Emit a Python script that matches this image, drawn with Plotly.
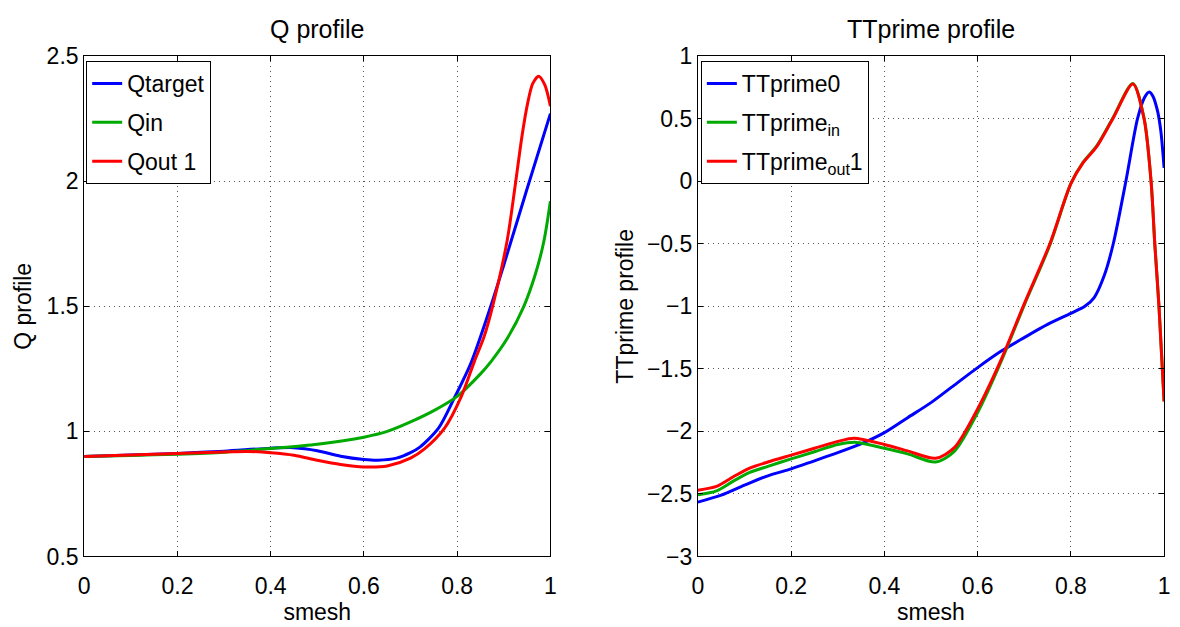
import plotly.graph_objects as go

# ---------------- Data ----------------
# Q profile
qtarget_x = [0, 0.1, 0.2, 0.3, 0.4, 0.45, 0.5, 0.55, 0.6, 0.63, 0.67, 0.7, 0.72, 0.76, 0.793, 0.83, 0.872, 0.9, 0.95, 1.0]
qtarget_y = [0.900, 0.906, 0.912, 0.921, 0.933, 0.935, 0.923, 0.901, 0.888, 0.885, 0.893, 0.915, 0.937, 1.013, 1.13, 1.275, 1.50, 1.665, 1.97, 2.27]

qin_x = [0, 0.1, 0.2, 0.3, 0.4, 0.5, 0.6, 0.65, 0.7, 0.75, 0.8, 0.85, 0.873, 0.907, 0.943, 0.968, 0.986, 1.0]
qin_y = [0.900, 0.904, 0.909, 0.917, 0.932, 0.949, 0.977, 1.0, 1.038, 1.083, 1.14, 1.23, 1.28, 1.37, 1.50, 1.63, 1.76, 1.92]

qout_x = [0, 0.1, 0.2, 0.3, 0.35, 0.4, 0.45, 0.5, 0.55, 0.6, 0.65, 0.7, 0.73, 0.773, 0.809, 0.837, 0.858, 0.876, 0.907, 0.925, 0.939, 0.951, 0.962, 0.975, 0.988, 1.0]
qout_y = [0.900, 0.906, 0.912, 0.918, 0.920, 0.915, 0.905, 0.885, 0.868, 0.858, 0.862, 0.893, 0.93, 1.013, 1.14, 1.28, 1.38, 1.50, 1.76, 1.99, 2.18, 2.31, 2.39, 2.42, 2.385, 2.30]

# TTprime profile
tt0_x = [0, 0.05, 0.1, 0.15, 0.2, 0.25, 0.3, 0.356, 0.4, 0.45, 0.5, 0.55, 0.6, 0.65, 0.7, 0.75, 0.8, 0.83, 0.85, 0.872, 0.891, 0.918, 0.943, 0.958, 0.968, 0.976, 0.986, 0.993, 1.0]
tt0_y = [-2.565, -2.51, -2.43, -2.355, -2.30, -2.235, -2.17, -2.09, -2.01, -1.89, -1.77, -1.63, -1.49, -1.36, -1.25, -1.145, -1.056, -1.0, -0.93, -0.75, -0.5, 0.0, 0.5, 0.67, 0.714, 0.68, 0.56, 0.40, 0.107]

ttin_x = [0, 0.04, 0.075, 0.11, 0.15, 0.2, 0.25, 0.3, 0.34, 0.4, 0.45, 0.51, 0.55, 0.6, 0.65, 0.7, 0.755, 0.8, 0.826, 0.855, 0.89, 0.933, 0.957, 0.972, 0.98, 0.989, 1.0]
ttin_y = [-2.506, -2.475, -2.40, -2.33, -2.28, -2.22, -2.163, -2.105, -2.088, -2.135, -2.18, -2.245, -2.16, -1.85, -1.445, -0.99, -0.51, -0.02, 0.15, 0.28, 0.505, 0.782, 0.505, 0.0, -0.5, -1.0, -1.76]

ttout_x = [0, 0.04, 0.075, 0.11, 0.15, 0.2, 0.25, 0.3, 0.335, 0.4, 0.45, 0.51, 0.55, 0.6, 0.65, 0.7, 0.755, 0.8, 0.826, 0.855, 0.89, 0.933, 0.957, 0.972, 0.98, 0.989, 1.0]
ttout_y = [-2.47, -2.44, -2.365, -2.295, -2.245, -2.19, -2.135, -2.08, -2.054, -2.105, -2.156, -2.215, -2.13, -1.82, -1.43, -0.98, -0.5, -0.02, 0.146, 0.274, 0.5, 0.777, 0.5, 0.0, -0.5, -1.0, -1.76]

x_ticks = [0, 0.2, 0.4, 0.6, 0.8, 1]
q_ticks = [0.5, 1, 1.5, 2, 2.5]
tt_ticks = [-3, -2.5, -2, -1.5, -1, -0.5, 0, 0.5, 1]

# ---------------- Styling ----------------
W, H = 1180, 627
FONT = "Liberation Sans, Arial, Helvetica, sans-serif"
BLUE, GREEN, RED = "#0000ff", "#00aa00", "#ff0000"
LW = 3
TICK_FS = 23
LABEL_FS = 23
TITLE_FS = 25
LEG_FS = 23

def px_x(p):
    return p / W

def px_y(p):
    return 1 - p / H

fig = go.Figure()

def add(x, y, name, color, xa, ya, legend, grp):
    fig.add_trace(go.Scatter(
        x=x, y=y, name=name, mode="lines",
        line=dict(color=color, width=LW, shape="spline", smoothing=0.8),
        xaxis=xa, yaxis=ya, legend=legend, legendgroup=grp,
        hoverinfo="skip",
    ))

add(qtarget_x, qtarget_y, "Qtarget", BLUE, "x", "y", "legend", "a")
add(qin_x, qin_y, "Qin", GREEN, "x", "y", "legend", "b")
add(qout_x, qout_y, "Qout 1", RED, "x", "y", "legend", "c")

add(tt0_x, tt0_y, "TTprime0", BLUE, "x2", "y2", "legend2", "d")
add(ttin_x, ttin_y, "TTprime<sub>in</sub>", GREEN, "x2", "y2", "legend2", "e")
add(ttout_x, ttout_y, "TTprime<sub>out</sub>1", RED, "x2", "y2", "legend2", "f")

common_axis = dict(
    showline=True, linecolor="black", linewidth=1, mirror="ticks",
    ticks="inside", ticklen=5, tickcolor="black",
    showgrid=True, gridcolor="#555555", gridwidth=1, griddash="1px,4px",
    zeroline=False, tickfont=dict(family=FONT, size=TICK_FS, color="black"),
)

top, bottom = 45, 567
ydom = [px_y(bottom), px_y(top)]

fig.update_layout(
    width=W, height=H,
    margin=dict(l=0, r=0, t=0, b=0),
    paper_bgcolor="white", plot_bgcolor="white",
    font=dict(family=FONT, size=20, color="black"),
    xaxis=dict(domain=[px_x(79), px_x(550)], range=[0, 1], tickvals=x_ticks, ticklabelstandoff=9,
               title=dict(text="smesh", font=dict(size=LABEL_FS), standoff=0), anchor="y", **common_axis),
    yaxis=dict(domain=ydom, range=[0.5, 2.5], tickvals=q_ticks,
               title=dict(text="Q profile", font=dict(size=LABEL_FS), standoff=8), anchor="x", **common_axis),
    xaxis2=dict(domain=[px_x(699), px_x(1170)], range=[0, 1], tickvals=x_ticks, ticklabelstandoff=9,
                title=dict(text="smesh", font=dict(size=LABEL_FS), standoff=0), anchor="y2", **common_axis),
    yaxis2=dict(domain=ydom, range=[-3, 1], tickvals=tt_ticks,
                title=dict(text="TTprime profile", font=dict(size=LABEL_FS), standoff=6), anchor="x2", **common_axis),
    legend=dict(x=px_x(81), y=px_y(50), xanchor="left", yanchor="top",
                bgcolor="white", bordercolor="black", borderwidth=1,
                entrywidth=100, entrywidthmode="pixels",
                font=dict(family=FONT, size=LEG_FS), tracegroupgap=6, traceorder="grouped"),
    legend2=dict(x=px_x(702), y=px_y(50), xanchor="left", yanchor="top",
                 bgcolor="white", bordercolor="black", borderwidth=1,
                 entrywidth=148, entrywidthmode="pixels",
                 font=dict(family=FONT, size=LEG_FS), tracegroupgap=6, traceorder="grouped"),
    showlegend=True,
    annotations=[
        dict(text="Q profile", x=(px_x(79) + px_x(550)) / 2, y=px_y(17), xref="paper", yref="paper",
             showarrow=False, font=dict(family=FONT, size=TITLE_FS), xanchor="center", yanchor="middle"),
        dict(text="TTprime profile", x=(px_x(699) + px_x(1170)) / 2, y=px_y(17), xref="paper", yref="paper",
             showarrow=False, font=dict(family=FONT, size=TITLE_FS), xanchor="center", yanchor="middle"),
    ],
)

fig.write_html("out.html")
